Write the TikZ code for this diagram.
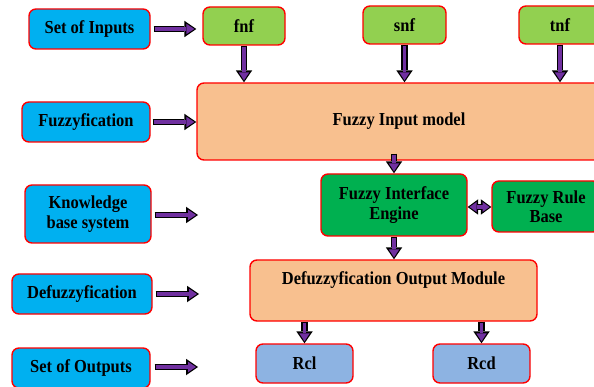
\documentclass[tikz,border=0pt]{standalone}
\usepackage{fontspec}
\setmainfont{Liberation Serif}[FakeStretch=0.9]
\usetikzlibrary{arrows.meta}
\definecolor{cblue}{HTML}{00B0F0}
\definecolor{cgreenl}{HTML}{92D050}
\definecolor{cgreend}{HTML}{00B050}
\definecolor{corange}{HTML}{F8C08F}
\definecolor{clblue}{HTML}{8DB3E2}
\definecolor{cpurple}{HTML}{7030A0}
\definecolor{cred}{HTML}{FF0000}
\tikzset{
  box/.style={draw=cred, line width=1.4pt, rounded corners=7pt, align=center,
    font=\fontsize{18.3}{19.5}\selectfont\bfseries, inner sep=0pt},
  bluebox/.style={box, fill=cblue},
  lgbox/.style={box, fill=cgreenl},
  dgbox/.style={box, fill=cgreend},
  orbox/.style={box, fill=corange},
  lbbox/.style={box, fill=clblue},
  barrow/.style={draw=cpurple, line width=3.2pt,
    -{Triangle[length=8pt,width=10.5pt,line width=0pt]},
    shorten >=2pt, shorten <=1pt,
    preaction={draw=black, line width=6.8pt, shorten >=0pt, shorten <=0pt,
      -{Triangle[length=12pt,width=16.5pt,line width=0pt]}}},
  dbarrow/.style={draw=cpurple, line width=3.2pt,
    {Triangle[length=7pt,width=10pt,line width=0pt]}-{Triangle[length=7pt,width=10pt,line width=0pt]},
    shorten >=1.8pt, shorten <=1.8pt,
    preaction={draw=black, line width=6.6pt, shorten >=0pt, shorten <=0pt,
      {Triangle[length=10.5pt,width=15.5pt,line width=0pt]}-{Triangle[length=10.5pt,width=15.5pt,line width=0pt]}}}
}
\begin{document}
\begin{tikzpicture}[x=1pt,y=-1pt]
\useasboundingbox (0,0) rectangle (594,387);
\clip (0,0) rectangle (594,387);
% left column
\node[bluebox, minimum width=121pt, minimum height=40pt] (soi) at (89.5,29) {Set of Inputs};
\node[bluebox, minimum width=128pt, minimum height=40pt] (fuz) at (86,122) {Fuzzyfication};
\node[bluebox, minimum width=126pt, minimum height=58pt] (kbs) at (88,214) {Knowledge\\base system};
\node[bluebox, minimum width=140pt, minimum height=40pt] (def) at (82,294) {Defuzzyfication};
\node[bluebox, minimum width=138pt, minimum height=40pt] (soo) at (81,368) {Set of Outputs};
% inputs
\node[lgbox, minimum width=82pt, minimum height=38pt] (fnf) at (244,26) {fnf};
\node[lgbox, minimum width=83pt, minimum height=38pt] (snf) at (404.5,25) {snf};
\node[lgbox, minimum width=82pt, minimum height=38pt] (tnf) at (560,25) {tnf};
% main blocks
\node[orbox, minimum width=404pt, minimum height=77pt] (fim) at (399,121.5) {Fuzzy Input model};
\node[dgbox, minimum width=146pt, minimum height=62pt] (eng) at (394,205) {Fuzzy Interface\\Engine};
\node[dgbox, minimum width=108pt, minimum height=51pt] (frb) at (546,206.5) {Fuzzy Rule\\Base};
\node[orbox, minimum width=287pt, minimum height=61pt, text height=13pt, text depth=25pt] (dom) at (393.5,290.5) {Defuzzyfication Output Module};
\node[lbbox, minimum width=97pt, minimum height=39pt] (rcl) at (304.5,363.5) {Rcl};
\node[lbbox, minimum width=97pt, minimum height=39pt] (rcd) at (481.5,363.5) {Rcd};
% free arrow ends
\coordinate (kend) at (198,215);
\coordinate (dend) at (199,294);
\coordinate (oend) at (198,367);
% left arrows
\draw[barrow] ([xshift=3pt]soi.east) -- ([xshift=-6pt]soi.east -| fnf.west);
\draw[barrow] ([xshift=2pt]fuz.east) -- (fuz.east -| fim.west);
\draw[barrow] ([xshift=3pt]kbs.east |- kend) -- (kend);
\draw[barrow] ([xshift=3pt]def.east) -- (dend);
\draw[barrow] ([xshift=4pt]soo.east |- oend) -- (oend);
% down arrows
\draw[barrow] (fnf.south) -- (fnf.south |- fim.north);
\draw[barrow] (snf.south) -- (snf.south |- fim.north);
\draw[barrow] (tnf.south) -- (tnf.south |- fim.north);
\draw[barrow] ([yshift=7pt]fim.south -| eng.north) -- (eng.north);
\draw[barrow] (eng.south) -- (eng.south |- dom.north);
\draw[barrow] (dom.south -| rcl.north) -- (rcl.north);
\draw[barrow] (dom.south -| rcd.north) -- (rcd.north);
\draw[dbarrow] (eng.east |- 0,207) -- (frb.west |- 0,207);
\end{tikzpicture}
\end{document}
